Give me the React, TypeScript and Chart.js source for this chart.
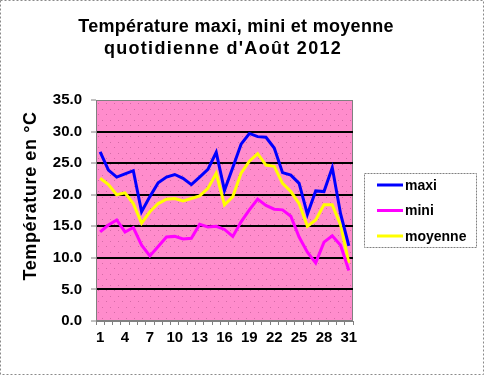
import React, { useEffect, useRef } from 'react';
import { Chart, registerables } from 'chart.js';

Chart.register(...registerables);

const days: string[] = Array.from({ length: 31 }, (_, i) => String(i + 1));
const maxi: number[] = [26.8, 23.9, 22.8, 23.3, 23.8, 17.3, 19.7, 21.9, 22.8, 23.2, 22.6, 21.6, 22.8, 24.0, 26.7, 20.7, 24.3, 28.0, 29.7, 29.2, 29.1, 27.4, 23.5, 23.1, 21.8, 16.9, 20.6, 20.5, 24.3, 17.0, 11.9];
const mini: number[] = [14.1, 15.2, 16.0, 14.1, 14.8, 12.0, 10.3, 11.8, 13.3, 13.4, 13.0, 13.1, 15.3, 14.9, 15.0, 14.5, 13.4, 15.7, 17.6, 19.3, 18.3, 17.7, 17.6, 16.6, 13.3, 10.9, 9.2, 12.5, 13.5, 12.0, 8.0];
const moyenne: number[] = [22.6, 21.6, 20.0, 20.3, 18.6, 15.5, 17.3, 18.6, 19.3, 19.4, 19.0, 19.4, 19.8, 21.0, 23.4, 18.4, 19.7, 23.4, 25.3, 26.5, 24.7, 24.5, 21.8, 20.5, 18.6, 15.0, 16.0, 18.4, 18.4, 15.2, 9.2];
const seriesNames: string[] = ['maxi', 'mini', 'moyenne'];
const seriesColors: string[] = ['#0000FF', '#FF00FF', '#FFFF00'];
const titleLines: string[] = ['Température maxi, mini et moyenne', "quotidienne d'Août 2012"];
const yTitle = 'Température en °C';

const FONT = 'Arial, "Liberation Sans", sans-serif';

const decorPlugin = {
  id: 'decor',
  beforeDraw(chart: any) {
    const { ctx, chartArea: a, width, height } = chart;
    ctx.save();
    ctx.fillStyle = '#FFFFFF';
    ctx.fillRect(0, 0, width, height);
    ctx.strokeStyle = '#8a8a8a';
    ctx.lineWidth = 1;
    ctx.setLineDash([2, 2]);
    ctx.strokeRect(0.5, 0.5, width - 1, height - 1);
    ctx.setLineDash([]);
    ctx.fillStyle = '#FF8CCC';
    ctx.fillRect(a.left, a.top, a.right - a.left, a.bottom - a.top);
    ctx.fillStyle = '#D46AA6';
    let row = 0;
    for (let y = a.top + 3; y < a.bottom - 1; y += 5.5, row++) {
      const off = row % 2 === 0 ? 2 : 6;
      for (let x = a.left + off; x < a.right - 1; x += 8) {
        ctx.fillRect(Math.round(x), Math.round(y), 1, 1);
      }
    }
    ctx.strokeStyle = '#808080';
    ctx.strokeRect(a.left + 0.5, a.top + 0.5, a.right - a.left - 1, a.bottom - a.top - 1);
    ctx.restore();
  },
  afterDraw(chart: any) {
    const { ctx } = chart;
    ctx.save();
    ctx.fillStyle = '#000';
    ctx.font = `bold 18px ${FONT}`;
    ctx.textAlign = 'center';
    ctx.textBaseline = 'alphabetic';
    (ctx as any).letterSpacing = '0.3px';
    ctx.fillText(titleLines[0], 236, 32);
    (ctx as any).letterSpacing = '1.3px';
    ctx.fillText(titleLines[1], 223, 54);
    ctx.save();
    ctx.translate(31, 196);
    ctx.rotate(-Math.PI / 2);
    ctx.textBaseline = 'middle';
    (ctx as any).letterSpacing = '0.6px';
    ctx.fillText(yTitle, 0, 0);
    ctx.restore();
    (ctx as any).letterSpacing = '0px';
    ctx.strokeStyle = '#808080';
    ctx.lineWidth = 1;
    ctx.setLineDash([2, 1]);
    ctx.strokeRect(364.5, 173.5, 112, 74);
    ctx.setLineDash([]);
    const rows = [185, 210.5, 236];
    chart.data.datasets.forEach((ds: any, i: number) => {
      ctx.strokeStyle = ds.borderColor;
      ctx.lineWidth = 3;
      ctx.beginPath();
      ctx.moveTo(377, rows[i]);
      ctx.lineTo(403, rows[i]);
      ctx.stroke();
      ctx.fillStyle = '#000';
      ctx.font = `bold 14px ${FONT}`;
      ctx.textAlign = 'left';
      ctx.textBaseline = 'middle';
      ctx.fillText(ds.label, 405, rows[i] + 1);
    });
    ctx.restore();
  },
};

export default function App() {
  const ref = useRef<HTMLCanvasElement | null>(null);
  useEffect(() => {
    if (!ref.current) return;
    const chart = new Chart(ref.current, {
      type: 'line',
      data: {
        labels: days,
        datasets: [maxi, mini, moyenne].map((d, i) => ({
          label: seriesNames[i],
          data: d,
          borderColor: seriesColors[i],
          backgroundColor: seriesColors[i],
          borderWidth: 3,
          pointRadius: 0,
          tension: 0,
          fill: false,
        })),
      },
      options: {
        responsive: false,
        animation: false,
        devicePixelRatio: 1,
        layout: { padding: { left: 8, top: 100, right: 131, bottom: 14 } },
        plugins: { legend: { display: false }, title: { display: false }, tooltip: { enabled: false } },
        scales: {
          x: {
            type: 'category',
            offset: true,
            afterFit: (s: any) => { s.height = 40; },
            grid: { display: true, drawOnChartArea: false, offset: true, tickLength: 4, tickColor: '#808080', tickWidth: 1 },
            border: { display: true, color: '#808080', width: 1 },
            ticks: {
              autoSkip: false,
              maxRotation: 0,
              minRotation: 0,
              padding: 4,
              color: '#000',
              font: { family: FONT, size: 15, weight: 'bold' },
              callback: (_v: any, i: number) => (i % 3 === 0 ? days[i] : ''),
            },
          },
          y: {
            min: 0,
            max: 35,
            afterFit: (s: any) => { s.width = 88; },
            grid: {
              color: (c: any) => (c.tick && (c.tick.value === 0 || c.tick.value === 35) ? 'rgba(0,0,0,0)' : '#000'),
              lineWidth: 2,
              tickLength: 5,
              tickColor: '#808080',
              tickWidth: 1,
            },
            border: { display: true, color: '#808080', width: 1 },
            ticks: {
              stepSize: 5,
              padding: 9,
              color: '#000',
              font: { family: FONT, size: 15, weight: 'bold' },
              callback: (v: any) => Number(v).toFixed(1),
            },
          },
        },
      },
      plugins: [decorPlugin],
    } as any);
    return () => chart.destroy();
  }, []);
  return (
    <div style={{ position: 'absolute', left: 0, top: 0, width: 484, height: 375 }}>
      <canvas ref={ref} width={484} height={375} style={{ width: 484, height: 375, display: 'block' }} />
    </div>
  );
}
